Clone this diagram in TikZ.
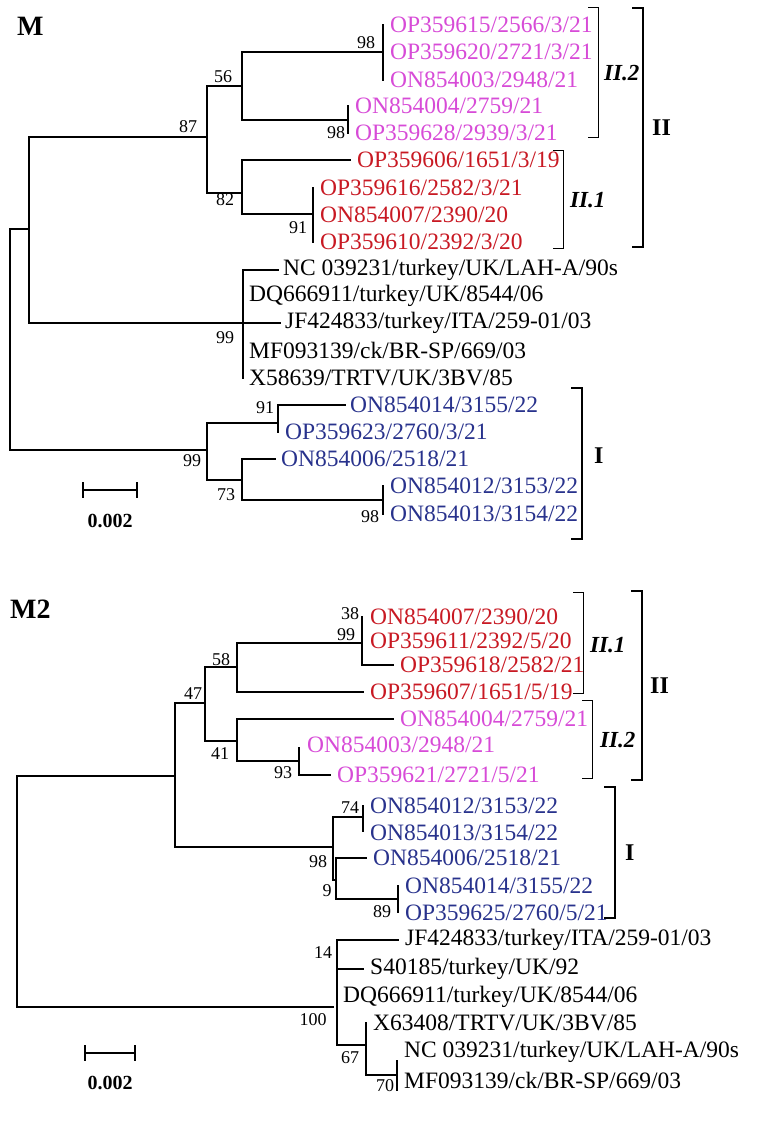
\documentclass[tikz,border=0pt]{standalone}
\usepackage{fontspec}
\setmainfont{Liberation Serif}
\definecolor{pk}{RGB}{215,75,215}
\definecolor{rd}{RGB}{200,25,35}
\definecolor{bl}{RGB}{40,50,140}
\begin{document}
\begin{tikzpicture}[x=1pt,y=-1pt,
  br/.style={line width=1.6pt,line cap=rect},
  thin/.style={line width=0.8pt},
  thick/.style={line width=2.2pt},
  lf/.style={anchor=west,inner sep=0pt,font=\fontsize{23.5}{23.5}\selectfont},
  bs/.style={inner sep=0pt,font=\fontsize{18}{18}\selectfont},
  cl/.style={anchor=west,inner sep=0pt,font=\fontsize{23}{23}\selectfont\bfseries\itshape},
  clb/.style={anchor=west,inner sep=0pt,font=\fontsize{24}{24}\selectfont\bfseries}]
\useasboundingbox (0,0) rectangle (762,1121);
% ===== M =====
\node[clb,font=\fontsize{28}{28}\selectfont\bfseries] (tM) at (17,26) {M};
\draw[br] (29,229)--(10,229)--(10,450)--(207,450);
\draw[br] (207,137)--(29,137)--(29,323)--(243,323);
\draw[br] (242,86)--(207,86)--(207,193)--(242,193);
\draw[br] (383,52)--(242,52)--(242,120)--(348,120);
\draw[br] (383,25)--(383,80);
\draw[br] (348,106)--(348,133);
\draw[br] (350,160)--(242,160)--(242,214)--(313,214);
\draw[br] (313,188)--(313,242);
\draw[br] (243,270)--(243,378);
\draw[br] (243,270)--(278,270); \draw[br] (243,323)--(280,323);
\draw[br] (278,423)--(207,423)--(207,480)--(242,480);
\draw[br] (278,405)--(278,432); \draw[br] (278,405)--(345,405);
\draw[br] (275,459)--(242,459)--(242,500)--(383,500);
\draw[br] (383,486)--(383,514);
\foreach \t/\x/\y in {{OP359615/2566/3/21}/390/25,{OP359620/2721/3/21}/390/52,{ON854003/2948/21}/390/80,{ON854004/2759/21}/355/106,{OP359628/2939/3/21}/355/133}
  \node[lf,pk] at (\x,\y) {\t};
\foreach \t/\x/\y in {{OP359606/1651/3/19}/357/160,{OP359616/2582/3/21}/320/188,{ON854007/2390/20}/320/215,{OP359610/2392/3/20}/320/242}
  \node[lf,rd] at (\x,\y) {\t};
\node[lf] at (283,270) {NC 039231/turkey/UK/LAH-A/90s};
\node[lf] at (249,296) {DQ666911/turkey/UK/8544/06};
\node[lf] at (285,323) {JF424833/turkey/ITA/259-01/03};
\node[lf] at (249,350) {MF093139/ck/BR-SP/669/03};
\node[lf] at (249,378) {X58639/TRTV/UK/3BV/85};
\foreach \t/\x/\y in {{ON854014/3155/22}/350/405,{OP359623/2760/3/21}/285/432,{ON854006/2518/21}/281/459,{ON854012/3153/22}/390/486,{ON854013/3154/22}/390/514}
  \node[lf,bl] at (\x,\y) {\t};
\foreach \t/\x/\y in {87/188/127,56/223/77,98/366/43,98/336/133,82/225/200,91/298/228,99/225/338,91/265/408,99/192/461,73/226/495,98/370/517}
  \node[bs] at (\x,\y) {\t};
\draw[thin] (588,7)--(598,7)--(598,137)--(588,137);
\node[cl] at (604,73) {II.2};
\draw[thin] (553,150)--(563,150)--(563,248)--(553,248);
\node[cl] at (570,200) {II.1};
\draw[thick] (632,8)--(643,8)--(643,247)--(632,247);
\node[clb] at (652,128) {II};
\draw[thick] (571,388)--(582,388)--(582,539)--(571,539);
\node[clb] at (594,456) {I};
\draw[br] (83,483)--(83,497); \draw[br] (137,483)--(137,497); \draw[br] (83,490)--(137,490);
\node[bs,font=\fontsize{20}{20}\selectfont\bfseries] at (110,521) {0.002};
% ===== M2 =====
\node[clb,font=\fontsize{28}{28}\selectfont\bfseries] at (10,609) {M2};
\draw[br] (175,776)--(17,776)--(17,1007)--(333,1007);
\draw[br] (205,703)--(175,703)--(175,847)--(333,847);
\draw[br] (237,667)--(205,667)--(205,741)--(237,741);
\draw[br] (362,643)--(237,643)--(237,692)--(363,692);
\draw[br] (362,617)--(362,665)--(393,665);
\draw[br] (393,719)--(237,719)--(237,761)--(299,761);
\draw[br] (299,748)--(299,775)--(330,775);
\draw[br] (363,817)--(333,817)--(333,880)--(336,880);
\draw[br] (363,806)--(363,831);
\draw[br] (366,858)--(336,858)--(336,899)--(398,899);
\draw[br] (398,886)--(398,912);
\draw[br] (398,940)--(337,940)--(337,1045)--(366,1045);
\draw[br] (337,969)--(363,969);
\draw[br] (366,1023)--(366,1075)--(397,1075);
\draw[br] (397,1061)--(397,1090);
\foreach \t/\x/\y in {{ON854007/2390/20}/370/617,{OP359611/2392/5/20}/370/641,{OP359618/2582/21}/400/665,{OP359607/1651/5/19}/370/692}
  \node[lf,rd] at (\x,\y) {\t};
\foreach \t/\x/\y in {{ON854004/2759/21}/400/719,{ON854003/2948/21}/307/745,{OP359621/2721/5/21}/337/775}
  \node[lf,pk] at (\x,\y) {\t};
\foreach \t/\x/\y in {{ON854012/3153/22}/370/806,{ON854013/3154/22}/370/833,{ON854006/2518/21}/373/858,{ON854014/3155/22}/405/886,{OP359625/2760/5/21}/405/913}
  \node[lf,bl] at (\x,\y) {\t};
\node[lf] at (405,940) {JF424833/turkey/ITA/259-01/03};
\node[lf] at (370,969) {S40185/turkey/UK/92};
\node[lf] at (343,997) {DQ666911/turkey/UK/8544/06};
\node[lf] at (373,1023) {X63408/TRTV/UK/3BV/85};
\node[lf] at (404,1052) {NC 039231/turkey/UK/LAH-A/90s};
\node[lf] at (404,1080) {MF093139/ck/BR-SP/669/03};
\foreach \t/\x/\y in {38/350/614,99/346/635,58/221/660,47/193/694,41/220/754,93/283/773,74/350/808,98/318/862,9/327/891,89/382/912,14/323/953,100/313/1020,67/350/1058,70/385/1086}
  \node[bs] at (\x,\y) {\t};
\draw[thin] (573,592)--(583,592)--(583,693)--(573,693);
\node[cl] at (590,645) {II.1};
\draw[thin] (582,700)--(592,700)--(592,778)--(582,778);
\node[cl] at (600,740) {II.2};
\draw[thick] (631,591)--(642,591)--(642,780)--(631,780);
\node[clb] at (650,686) {II};
\draw[thick] (604,787)--(615,787)--(615,918)--(604,918);
\node[clb] at (625,853) {I};
\draw[br] (85,1046)--(85,1060); \draw[br] (135,1046)--(135,1060); \draw[br] (85,1053)--(135,1053);
\node[bs,font=\fontsize{20}{20}\selectfont\bfseries] at (110,1083) {0.002};
\end{tikzpicture}
\end{document}
